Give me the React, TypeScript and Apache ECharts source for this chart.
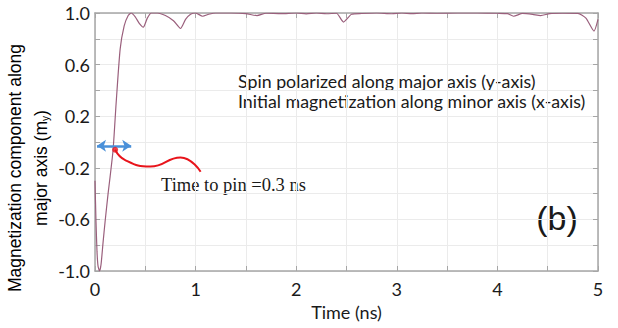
import React, { useEffect, useRef } from "react";
import * as echarts from "echarts";

// Time (ns) and m_y values
const timeNs = [
  0, 0.01, 0.02, 0.03, 0.045, 0.06, 0.08, 0.1, 0.13, 0.15, 0.18, 0.21, 0.25, 0.29, 0.33, 0.36,
  0.4, 0.44, 0.48, 0.52, 0.56, 0.62, 0.7, 0.78, 0.85, 0.9, 0.95, 1.0, 1.07, 1.13, 1.2, 1.35,
  1.5, 1.61, 1.7, 1.85, 2.0, 2.1, 2.2, 2.3, 2.4, 2.47, 2.55, 2.65, 2.8, 2.95, 3.05, 3.15,
  3.25, 3.4, 3.6, 3.8, 4.0, 4.1, 4.16, 4.25, 4.35, 4.43, 4.52, 4.65, 4.8, 4.88, 4.96, 5.0,
];
const myValues = [
  -0.3, -0.62, -0.85, -0.96, -1.0, -0.95, -0.78, -0.62, -0.4, -0.27, -0.06, 0.3, 0.72, 0.9, 0.98, 1.0,
  0.97, 0.92, 0.89, 0.96, 1.0, 1.0, 0.98, 0.94, 0.88, 0.95, 0.99, 1.0, 0.975, 0.99, 1.0, 1.0,
  0.995, 0.98, 0.998, 0.995, 1.0, 0.993, 1.0, 0.994, 0.998, 0.93, 0.99, 0.996, 1.0, 0.994, 1.0, 0.995,
  1.0, 0.998, 1.0, 1.0, 0.998, 0.995, 0.975, 0.997, 0.99, 0.98, 0.995, 0.998, 0.997, 0.96, 0.86, 0.95,
];

// Annotation pointer (red curve) in data coordinates
const pointerT = [0.2, 0.3, 0.55, 0.85, 1.05];
const pointerV = [-0.06, -0.14, -0.19, -0.12, -0.23];
// Blue double arrow span (time) and level
const arrowT = [0.02, 0.36];
const arrowV = -0.03;

const xTicks = [0, 1, 2, 3, 4, 5];
const yTickLabels = ["-1.0", "-0.6", "-0.2", "0.2", "0.6", "1.0"];

export default function App() {
  const ref = useRef<HTMLDivElement>(null);
  useEffect(() => {
    if (!ref.current) return;
    const chart = echarts.init(ref.current, undefined, { renderer: "svg" });
    const axisGray = "#a6a6a6";
    const gridGray = "#ebebeb";
    const labelFont = "Lato";
    const curve = timeNs.map((t, i) => [t, myValues[i]]);
    const pointer = pointerT.map((t, i) => [t, pointerV[i]]);
    const edge = {
      axisLine: { show: true, onZero: false, lineStyle: { color: axisGray, width: 1.5 } },
      axisTick: { show: true, inside: true, length: 5, lineStyle: { color: axisGray } },
    };
    chart.setOption({
      animation: false,
      grid: { left: 95, right: 20, top: 13, bottom: 57 },
      xAxis: [
        {
          type: "value",
          min: 0,
          max: 5,
          interval: 0.5,
          name: "Time (ns)",
          nameLocation: "middle",
          nameGap: 30,
          nameTextStyle: { fontFamily: labelFont, fontSize: 18, color: "#1a1a1a" },
          ...edge,
          axisLabel: {
            interval: 1,
            margin: 9,
            fontFamily: labelFont,
            fontSize: 18,
            color: "#1a1a1a",
            formatter: (v: number) => (xTicks.includes(v) ? String(v) : ""),
          },
          splitLine: { show: true, lineStyle: { color: gridGray } },
        },
        {
          type: "value",
          position: "top",
          min: 0,
          max: 5,
          interval: 0.5,
          ...edge,
          axisLabel: { show: false },
          splitLine: { show: false },
        },
      ],
      yAxis: [
        {
          type: "value",
          min: -1,
          max: 1,
          interval: 0.2,
          ...edge,
          axisLabel: {
            margin: 5,
            fontFamily: labelFont,
            fontSize: 18,
            color: "#1a1a1a",
            formatter: (v: number) => {
              const s = v.toFixed(1);
              return yTickLabels.includes(s) ? s : "";
            },
          },
          splitLine: { show: true, lineStyle: { color: gridGray } },
        },
        {
          type: "value",
          position: "right",
          min: -1,
          max: 1,
          interval: 0.2,
          ...edge,
          axisLabel: { show: false },
          splitLine: { show: false },
        },
      ],
      series: [
        {
          type: "line",
          data: curve,
          showSymbol: false,
          smooth: 0.2,
          lineStyle: { color: "#9a5f7c", width: 1.2 },
          z: 3,
        },
        {
          type: "line",
          data: pointer,
          showSymbol: false,
          smooth: 0.5,
          lineStyle: { color: "#e8141b", width: 2 },
          z: 4,
          markLine: {
            silent: true,
            symbol: ["arrow", "arrow"],
            symbolSize: [9, 9],
            label: { show: false },
            lineStyle: { color: "#4a90d9", width: 2.5, type: "solid" },
            data: [[{ coord: [arrowT[0], arrowV] }, { coord: [arrowT[1], arrowV] }]],
          },
        },
        {
          type: "scatter",
          data: [pointer[0]],
          symbolSize: 6,
          itemStyle: { color: "#e8141b" },
          z: 5,
        },
      ],
      graphic: [
        {
          type: "text",
          x: 28,
          y: 168,
          rotation: Math.PI / 2,
          style: {
            text: "{a|Magnetization component along}\n{a|major axis (m}{s|y}{a|)}",
            align: "center",
            verticalAlign: "middle",
            rich: {
              a: { fontFamily: "Liberation Sans", fontSize: 17.5, color: "#1a1a1a", lineHeight: 26 },
              s: { fontFamily: "Liberation Sans", fontSize: 10, color: "#1a1a1a", lineHeight: 26, padding: [8, 0, 0, 0] },
            },
          },
        },
        {
          type: "text",
          left: 238,
          top: 71,
          style: {
            text: "Spin polarized along major axis (y-axis)\nInitial magnetization along minor axis (x-axis)",
            fontFamily: labelFont,
            fontSize: 17.8,
            lineHeight: 20,
            fill: "#1a1a1a",
          },
        },
        {
          type: "text",
          left: 161,
          top: 175,
          style: {
            text: "Time to pin =0.3 ns",
            fontFamily: "Liberation Serif",
            fontSize: 18.5,
            fill: "#1a1a1a",
          },
        },
        {
          type: "text",
          x: 557,
          y: 218,
          style: {
            text: "(b)",
            fontFamily: "Liberation Sans",
            fontSize: 34,
            align: "center",
            verticalAlign: "middle",
            fill: "#1a1a1a",
          },
        },
      ],
    });
    return () => chart.dispose();
  }, []);
  return <div ref={ref} style={{ width: 618, height: 328, position: "absolute", left: 0, top: 0 }} />;
}
